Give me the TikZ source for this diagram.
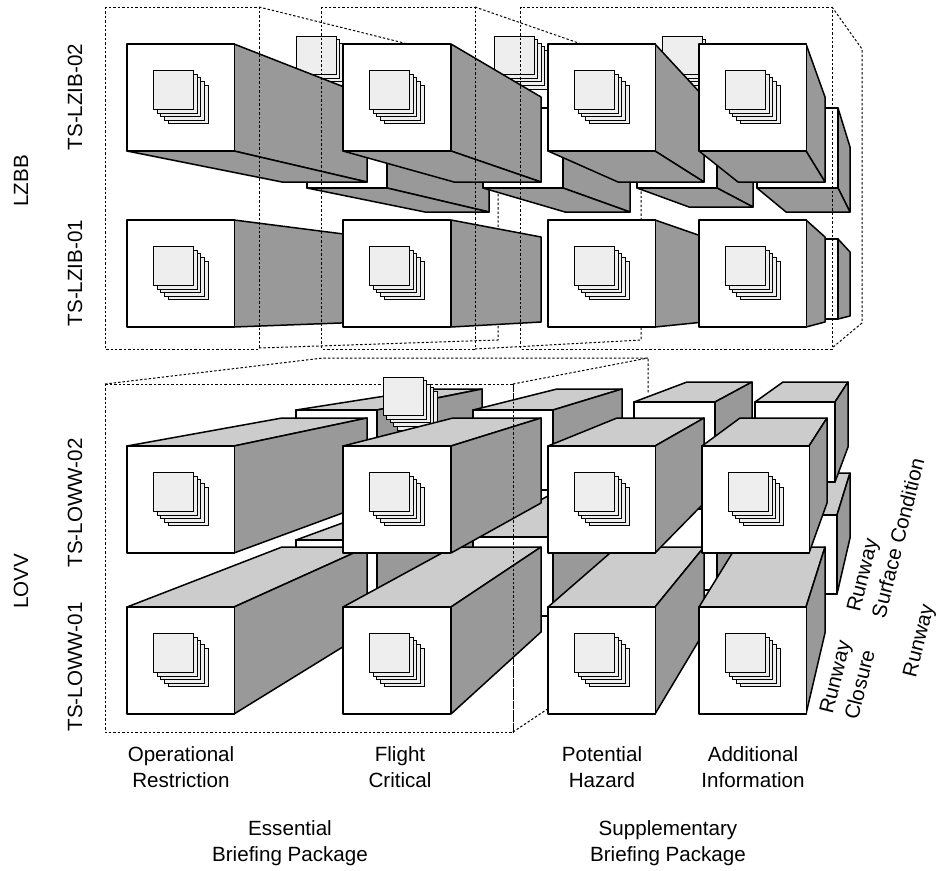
\documentclass[tikz,border=0pt]{standalone}
\usepackage{fontspec}
\setmainfont{Liberation Sans}
\definecolor{sideg}{HTML}{999999}
\definecolor{topg}{HTML}{CCCCCC}
\definecolor{iconf}{HTML}{EEEEEE}
\tikzset{
  face/.style={draw=black,line width=1.5pt,line join=round},
  sideface/.style={face,fill=sideg},
  topface/.style={face,fill=topg},
  whiteface/.style={face,fill=white},
  dashline/.style={draw=black,line width=1pt,dash pattern=on 2.4pt off 2pt},
  iconpage/.style={draw=black,line width=0.9pt,fill=iconf},
  lab/.style={font=\fontsize{20.6}{26}\selectfont,align=center,inner sep=0pt},
  labl/.style={lab,align=left},
}
\newcommand{\stackicon}[2]{%
  \foreach \k in {4,3,2,1,0}{%
    \draw[iconpage] ({#1+3.6*\k},{#2+3.6*\k}) rectangle ++(40,38.7);}%
}
\newcommand{\frontbox}[2]{%
  \draw[whiteface] (#1,#2) rectangle ++(107.5,107);
  \stackicon{#1+26.7}{#2+26.7}%
}
\begin{document}
\begin{tikzpicture}[x=1pt,y=-1pt]
\useasboundingbox (0,0) rectangle (942,870);
\fill[white] (0,0) rectangle (942,870);
% ---------- upper block: back dashed lines
\draw[dashline] (259,7) -- (420,47);
\draw[dashline] (259,348) -- (498,340) -- (498,190);
\draw[dashline] (475,7) -- (590,47);
\draw[dashline] (475,349) -- (641,340) -- (641,185);
\draw[dashline] (832,7) -- (862,49) -- (862,323) -- (832,348);
% back icons
\stackicon{296}{36}
\stackicon{494}{36}
\stackicon{662}{36}
% back row 02
\draw[sideface] (387,108) -- (489,150) -- (489,212) -- (387,188) -- cycle;
\draw[sideface] (307,188) -- (425,212) -- (489,212) -- (387,188) -- cycle;
\draw[whiteface] (307,108) rectangle (387,188);
\draw[sideface] (563,108) -- (630,150) -- (630,212) -- (563,188) -- cycle;
\draw[sideface] (483,188) -- (565,212) -- (630,212) -- (563,188) -- cycle;
\draw[whiteface] (483,108) rectangle (563,188);
\draw[sideface] (717,108) -- (753,150) -- (753,207) -- (717,188) -- cycle;
\draw[sideface] (637,188) -- (689,207) -- (753,207) -- (717,188) -- cycle;
\draw[whiteface] (637,108) rectangle (717,188);
\draw[sideface] (838,108) -- (850,147) -- (850,212) -- (838,188) -- cycle;
\draw[sideface] (757,188) -- (786,212) -- (850,212) -- (838,188) -- cycle;
\draw[whiteface] (757,108) rectangle (838,188);
% back row 01 (only last visible)
\draw[sideface] (838,239) -- (850,252) -- (850,316) -- (838,319) -- cycle;
\draw[whiteface] (758,239) rectangle (838,319);
% front row 02 extrusions
\draw[sideface] (234,44) -- (367,96) -- (367,182) -- (234,151) -- cycle;
\draw[sideface] (127,151) -- (282,182) -- (367,182) -- (234,151) -- cycle;
\draw[sideface] (451,44) -- (541,97) -- (541,182) -- (451,151) -- cycle;
\draw[sideface] (343,151) -- (454,182) -- (541,182) -- (451,151) -- cycle;
\draw[sideface] (655,44) -- (704,97) -- (704,182) -- (655,151) -- cycle;
\draw[sideface] (548,151) -- (618,182) -- (704,182) -- (655,151) -- cycle;
\draw[sideface] (806,44) -- (825,97) -- (825,182) -- (806,151) -- cycle;
\draw[sideface] (699,151) -- (738,182) -- (825,182) -- (806,151) -- cycle;
% front row 01 extrusions
\draw[sideface] (234,220) -- (367,237) -- (367,322) -- (234,327) -- cycle;
\draw[sideface] (451,220) -- (541,237) -- (541,322) -- (451,327) -- cycle;
\draw[sideface] (655,220) -- (704,237) -- (704,322) -- (655,327) -- cycle;
\draw[sideface] (806,220) -- (825,237) -- (825,322) -- (806,327) -- cycle;
\frontbox{127}{44}\frontbox{343}{44}\frontbox{548}{44}\frontbox{699}{44}
\frontbox{127}{220}\frontbox{343}{220}\frontbox{548}{220}\frontbox{699}{220}
% front dashed rectangles
\draw[dashline] (105,7) rectangle (259,349);
\draw[dashline] (321.5,7) rectangle (475,349);
\draw[dashline] (520.5,7) rectangle (832,349);
% ---------- lower block: back dashed lines
\draw[dashline] (105,384) -- (323,358) -- (648,358) -- (648,394);
\draw[dashline] (513,384) -- (648,358);
\draw[dashline] (513,732) -- (552,706);
\draw[dashline] (105,384) rectangle (513,732);
% back row 01
\draw[topface] (296,540) -- (430,491) -- (482,491) -- (377,540) -- cycle;
\draw[sideface] (377,540) -- (482,491) -- (482,600) -- (377,620) -- cycle;
\draw[whiteface] (296,540) rectangle (377,620);
\draw[topface] (473,537) -- (557,491) -- (622,491) -- (553,537) -- cycle;
\draw[sideface] (553,537) -- (622,491) -- (622,600) -- (553,616) -- cycle;
\draw[whiteface] (473,537) rectangle (553,616);
\draw[sideface] (717,510) -- (760,480) -- (760,570) -- (717,590) -- cycle;
\draw[whiteface] (637,509) rectangle (717,590);
\draw[topface] (758,515) -- (783,473) -- (850,473) -- (837,515) -- cycle;
\draw[sideface] (837,515) -- (850,473) -- (850,538) -- (837,594) -- cycle;
\draw[whiteface] (758,515) rectangle (837,594);
% back row 02
\draw[topface] (296,410) -- (430,389) -- (482,389) -- (377,410) -- cycle;
\draw[sideface] (377,410) -- (482,389) -- (482,470) -- (377,490) -- cycle;
\draw[whiteface] (296,410) rectangle (377,490);
\stackicon{383}{377}
\draw[topface] (473,410) -- (557,389) -- (622,389) -- (553,410) -- cycle;
\draw[sideface] (553,410) -- (622,389) -- (622,470) -- (553,490) -- cycle;
\draw[whiteface] (473,410) rectangle (553,490);
\draw[topface] (634,402) -- (687,382) -- (752,382) -- (715,402) -- cycle;
\draw[sideface] (715,402) -- (752,382) -- (752,462) -- (715,482) -- cycle;
\draw[whiteface] (634,402) rectangle (715,482);
\draw[topface] (755,402) -- (783,382) -- (848,382) -- (835,402) -- cycle;
\draw[sideface] (835,402) -- (848,382) -- (848,447) -- (835,482) -- cycle;
\draw[whiteface] (755,402) rectangle (835,482);
% front row 01
\draw[topface] (127,607) -- (282,547) -- (367,547) -- (234,607) -- cycle;
\draw[sideface] (234,607) -- (367,547) -- (367,632) -- (234,714) -- cycle;
\draw[topface] (343,607) -- (453,547) -- (541,547) -- (451,607) -- cycle;
\draw[sideface] (451,607) -- (541,547) -- (541,632) -- (451,714) -- cycle;
\draw[topface] (548,607) -- (617,547) -- (704,547) -- (655,607) -- cycle;
\draw[sideface] (655,607) -- (704,547) -- (704,632) -- (655,714) -- cycle;
\draw[topface] (699,607) -- (736,547) -- (825,547) -- (806,607) -- cycle;
\draw[sideface] (806,607) -- (825,547) -- (825,633) -- (806,714) -- cycle;
\frontbox{127}{607}\frontbox{343}{607}\frontbox{548}{607}\frontbox{699}{607}
% front row 02
\draw[topface] (127,446) -- (282,418) -- (367,418) -- (234,446) -- cycle;
\draw[sideface] (234,446) -- (367,418) -- (367,504) -- (234,553) -- cycle;
\draw[topface] (343,446) -- (453,418) -- (541,418) -- (451,446) -- cycle;
\draw[sideface] (451,446) -- (541,418) -- (541,503) -- (451,553) -- cycle;
\draw[topface] (548,446) -- (617,418) -- (704,418) -- (655,446) -- cycle;
\draw[sideface] (655,446) -- (704,418) -- (704,503) -- (655,553) -- cycle;
\draw[topface] (702,446) -- (740,418) -- (827,418) -- (809,446) -- cycle;
\draw[sideface] (809,446) -- (827,418) -- (827,503) -- (809,553) -- cycle;
\frontbox{127}{446}\frontbox{343}{446}\frontbox{548}{446}\frontbox{702}{446}
\draw[dashline] (513,384) -- (513,732);
% ---------- labels
\node[lab,rotate=90] (lzbb) at (21,181) {LZBB};
\node[lab,rotate=90] (lovv) at (21,581) {LOVV};
\node[lab,rotate=90] (z2) at (75,97) {TS-LZIB-02};
\node[lab,rotate=90] (z1) at (75,273) {TS-LZIB-01};
\node[lab,rotate=90] (w2) at (75,503) {TS-LOWW-02};
\node[lab,rotate=90] (w1) at (75,667) {TS-LOWW-01};
\node[lab] (c1) at (181,767) {Operational\\Restriction};
\node[lab] (c2) at (400,767) {Flight\\Critical};
\node[lab] (c3) at (602,767) {Potential\\Hazard};
\node[lab] (c4) at (753,767) {Additional\\Information};
\node[lab] (g1) at (290,843) {Essential\\Briefing Package};
\node[lab] (g2) at (668,843) {Supplementary\\Briefing Package};
\node[labl,rotate=76] (r1) at (847.5,680) {Runway\\Closure};
\node[labl,rotate=76] (r2) at (885.5,535) {Runway\\Surface Condition};
\node[lab,rotate=76] (r3) at (920,641) {Runway};
\end{tikzpicture}
\end{document}
